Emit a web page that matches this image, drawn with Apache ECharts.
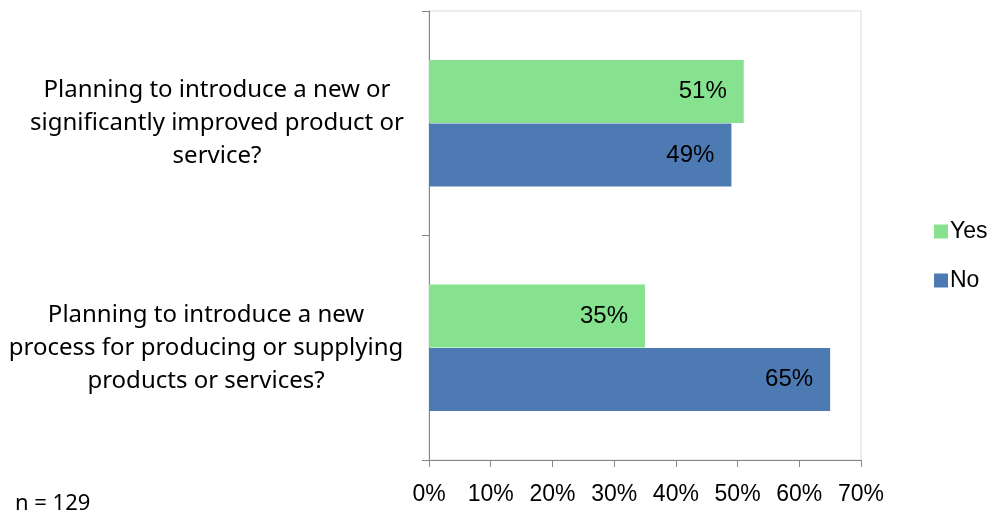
<!DOCTYPE html>
<html>
<head>
<meta charset="utf-8">
<script src="https://cdn.jsdelivr.net/npm/echarts@6/dist/echarts.min.js"></script>
<style>
  html, body { margin: 0; padding: 0; background: #fff; }
  #chart { width: 993px; height: 518px; }
</style>
</head>
<body>
<div id="chart"></div>
<script>
// Survey questions (top to bottom)
const categories = [
  'Planning to introduce a new or\nsignificantly improved product or\nservice?',
  'Planning to introduce a new\nprocess for producing or supplying\nproducts or services?'
];
// Share of respondents, percent
const yesValues = [51, 35];
const noValues = [49, 65];
const xTicks = [0, 10, 20, 30, 40, 50, 60, 70];
const sampleNote = 'n = 129';

const FONT = '"Liberation Sans", Arial, sans-serif';
const TEXT_FONT = '"Noto Sans", "Open Sans", sans-serif';
const AXIS_GREY = '#868686';

const chart = echarts.init(document.getElementById('chart'), null, { renderer: 'canvas' });

const labelStyle = {
  show: true,
  position: 'insideRight',
  distance: 17,
  formatter: p => p.value + '%',
  color: '#000',
  fontSize: 24,
  fontFamily: FONT
};

const qStyle = { fontSize: 24, lineHeight: 33, color: '#000', fontFamily: TEXT_FONT, align: 'center' };

chart.setOption({
  animation: false,
  textStyle: { fontFamily: FONT },
  title: {
    text: sampleNote,
    left: 10,
    top: 488,
    textStyle: { fontSize: 22, fontWeight: 'normal', color: '#000', fontFamily: TEXT_FONT }
  },
  legend: {
    orient: 'vertical',
    left: 929,
    top: 215,
    itemWidth: 14,
    itemHeight: 14,
    itemGap: 26,
    icon: 'rect',
    textStyle: { fontSize: 23, color: '#000', fontFamily: FONT, padding: [0, 0, 0, -3] },
    data: ['Yes', 'No']
  },
  grid: {
    left: 429,
    top: 11,
    width: 432,
    height: 449,
    show: true,
    borderColor: '#d9d9d9',
    borderWidth: 1,
    containLabel: false,
    outerBoundsMode: 'none'
  },
  xAxis: {
    type: 'value',
    min: xTicks[0],
    max: xTicks[xTicks.length - 1],
    interval: 10,
    axisLine: { show: true, lineStyle: { color: AXIS_GREY, width: 1 } },
    axisTick: { show: true, length: 7, lineStyle: { color: AXIS_GREY } },
    splitLine: { show: false },
    axisLabel: {
      formatter: v => v + '%',
      fontSize: 23,
      color: '#000',
      margin: 23,
      fontFamily: FONT
    }
  },
  yAxis: {
    type: 'category',
    data: categories,
    inverse: true,
    axisLine: { show: true, lineStyle: { color: AXIS_GREY, width: 1 } },
    axisTick: { show: true, length: 7, lineStyle: { color: AXIS_GREY } },
    axisLabel: {
      align: 'center',
      margin: 212,
      fontSize: 24,
      lineHeight: 33,
      color: '#000',
      fontFamily: TEXT_FONT,
      // the second question sits a little further left
      formatter: (v, i) => (i === 0 ? '{a|' : '{b|') + v + '}',
      rich: {
        a: qStyle,
        b: Object.assign({}, qStyle, { padding: [0, 22, 0, 0] })
      }
    }
  },
  series: [
    {
      name: 'Yes',
      type: 'bar',
      data: yesValues,
      barWidth: 63,
      barGap: '1%',
      itemStyle: { color: '#86e28f' },
      label: labelStyle
    },
    {
      name: 'No',
      type: 'bar',
      data: noValues,
      barWidth: 63,
      barGap: '1%',
      itemStyle: { color: '#4e7ab4' },
      label: labelStyle
    }
  ]
});
</script>
</body>
</html>
